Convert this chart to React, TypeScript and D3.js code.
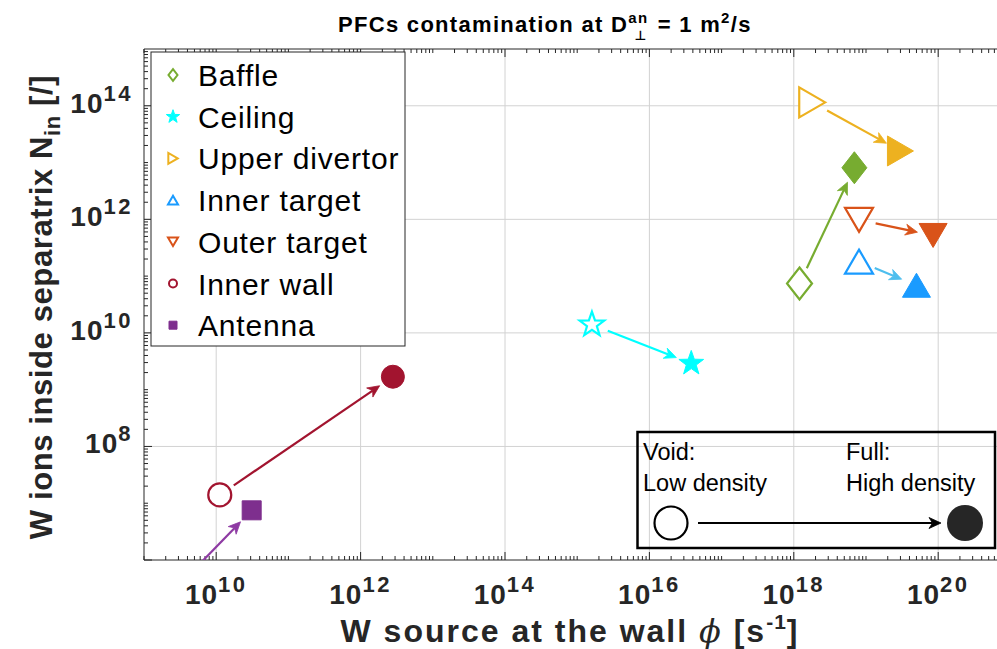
import React from 'react';
import * as d3 from 'd3';

const W = 997;
const H = 649;

// PFC groups, their markers and colours
const categories = ['Baffle', 'Ceiling', 'Upper divertor', 'Inner target', 'Outer target', 'Inner wall', 'Antenna'];
const markerShapes = ['diamond', 'star', 'triangleRight', 'triangleUp', 'triangleDown', 'circle', 'square'];
const seriesColors = ['#77AC30', '#00FFFF', '#EDB120', '#1A9BFF', '#D95319', '#A2142F', '#7E2F8E'];
const arrowColors = ['#77AC30', '#00FFFF', '#EDB120', '#4DBEEE', '#D95319', '#A2142F', '#8E3AA3'];

// Low density (void markers) and high density (full markers) cases
const voidSource = [1.2e18, 1.6e15, 1.8e18, 8.0e18, 8.0e18, 1.12e10, 2.8e9];
const voidIons = [7.4e10, 1.4e10, 1.15e14, 1.8e11, 9.8e11, 1.4e7, 3.2e5];
const fullSource = [6.9e18, 3.8e16, 3.0e19, 5.0e19, 8.5e19, 2.8e12, 3.1e10];
const fullIons = [8.1e12, 2.9e9, 1.6e13, 6.9e10, 5.2e11, 1.69e9, 7.5e6];

// Labelled decades
const xTickExponents = [10, 12, 14, 16, 18, 20];
const yTickExponents = [8, 10, 12, 14];

const FONT = '"Liberation Sans", Arial, Helvetica, sans-serif';
const AXIS = '#262626';

const plot = { left: 144, top: 49, right: 1010.4, bottom: 560 };

const xs = d3.scaleLog().domain([1e9, 1e21]).range([plot.left, plot.right]);
const ys = d3.scaleLog().domain([1e6, 1e15]).range([plot.bottom, plot.top]);

function markerPath(shape: string, big: boolean): string {
  const k = big ? 1 : 0.36;
  switch (shape) {
    case 'diamond': {
      const hw = 12.5 * k, hh = 16 * k;
      return `M0,${-hh}L${hw},0L0,${hh}L${-hw},0Z`;
    }
    case 'triangleUp': {
      const b = 28 * k, h = 24 * k;
      return `M0,${-h / 2}L${b / 2},${h / 2}L${-b / 2},${h / 2}Z`;
    }
    case 'triangleDown': {
      const b = 28 * k, h = 24 * k;
      return `M0,${h / 2}L${b / 2},${-h / 2}L${-b / 2},${-h / 2}Z`;
    }
    case 'triangleRight': {
      const b = 30 * k, h = 26 * k;
      return `M${h / 2},0L${-h / 2},${-b / 2}L${-h / 2},${b / 2}Z`;
    }
    case 'star': {
      const R = (big ? 13 : 7), r = R * 0.4;
      const pts: string[] = [];
      for (let i = 0; i < 10; i++) {
        const a = -Math.PI / 2 + (i * Math.PI) / 5;
        const rr = i % 2 === 0 ? R : r;
        pts.push(`${(rr * Math.cos(a)).toFixed(2)},${(rr * Math.sin(a)).toFixed(2)}`);
      }
      return 'M' + pts.join('L') + 'Z';
    }
    case 'square': {
      const s = big ? 9.5 : 4;
      return `M${-s},${-s}L${s},${-s}L${s},${s}L${-s},${s}Z`;
    }
    default: {
      const r = big ? 11.5 : 4;
      return `M${r},0A${r},${r} 0 1 1 ${-r},0A${r},${r} 0 1 1 ${r},0Z`;
    }
  }
}

function Arrow({ x0, y0, x1, y1, gap0, gap1, color, width = 2.2 }: any) {
  const dx = x1 - x0, dy = y1 - y0;
  const len = Math.hypot(dx, dy);
  const ux = dx / len, uy = dy / len;
  const nx = -uy, ny = ux;
  const sx = x0 + ux * gap0, sy = y0 + uy * gap0;
  const ex = x1 - ux * gap1, ey = y1 - uy * gap1;
  const L = 12, HW = 5.5, notch = 3.5;
  const bx = ex - ux * L, by = ey - uy * L;
  const head = `M${ex},${ey}L${bx + nx * HW},${by + ny * HW}L${ex - ux * (L - notch)},${ey - uy * (L - notch)}L${bx - nx * HW},${by - ny * HW}Z`;
  return (
    <g>
      <line x1={sx} y1={sy} x2={ex - ux * (L - notch)} y2={ey - uy * (L - notch)} stroke={color} strokeWidth={width} />
      <path d={head} fill={color} stroke={color} strokeWidth={0.8} strokeLinejoin="miter" />
    </g>
  );
}

export default function App() {
  const xMinor: { v: number; major: boolean }[] = [];
  for (let e = 9; e <= 20; e++) {
    for (let m = 1; m <= 9; m++) {
      const v = m * Math.pow(10, e);
      if (v < 1e9 || v > 1e21) continue;
      xMinor.push({ v, major: m === 1 && xTickExponents.includes(e) });
    }
  }
  const yMinor: { v: number; major: boolean }[] = [];
  for (let e = 6; e <= 14; e++) {
    for (let m = 1; m <= 9; m++) {
      const v = m * Math.pow(10, e);
      if (v < 1e6 || v > 1e15) continue;
      yMinor.push({ v, major: m === 1 && (e % 2 === 0) });
    }
  }

  return (
    <svg width={W} height={H} style={{ position: 'fixed', left: 0, top: 0, background: '#fff' }} fontFamily={FONT}>
      <rect x={0} y={0} width={W} height={H} fill="#fff" />
      <defs>
        <clipPath id="plotClip">
          <rect x={plot.left} y={plot.top} width={plot.right - plot.left} height={plot.bottom - plot.top} />
        </clipPath>
      </defs>

      {/* grid */}
      <g stroke="#d2d2d2" strokeWidth={1}>
        {xTickExponents.map((e) => (
          <line key={'gx' + e} x1={xs(10 ** e)} x2={xs(10 ** e)} y1={plot.top} y2={plot.bottom} />
        ))}
        {yTickExponents.map((e) => (
          <line key={'gy' + e} x1={plot.left} x2={plot.right} y1={ys(10 ** e)} y2={ys(10 ** e)} />
        ))}
      </g>

      {/* axes box and inward ticks */}
      <g stroke={AXIS} strokeWidth={1} fill="none">
        <line x1={plot.left} x2={plot.left} y1={plot.top} y2={plot.bottom} />
        <line x1={plot.left} x2={plot.right} y1={plot.top} y2={plot.top} />
        <line x1={plot.left} x2={plot.right} y1={plot.bottom} y2={plot.bottom} />
        {xMinor.map((t, i) => {
          const x = xs(t.v);
          const l = t.major ? 8 : 4;
          return (
            <g key={'tx' + i}>
              <line x1={x} x2={x} y1={plot.bottom} y2={plot.bottom - l} />
              <line x1={x} x2={x} y1={plot.top} y2={plot.top + l} />
            </g>
          );
        })}
        {yMinor.map((t, i) => {
          const y = ys(t.v);
          const l = t.major ? 8 : 4;
          return <line key={'ty' + i} x1={plot.left} x2={plot.left + l} y1={y} y2={y} />;
        })}
      </g>

      {/* tick labels */}
      <g fill={AXIS} fontWeight="bold">
        {xTickExponents.map((e) => (
          <text key={'lx' + e} x={xs(10 ** e)} y={604} textAnchor="middle" fontSize={28} letterSpacing={1}>
            10<tspan dy={-12} fontSize={22} letterSpacing={2.5}>{e}</tspan>
          </text>
        ))}
        {[8, 10, 12, 14].map((e) => (
          <text key={'ly' + e} x={133} y={ys(10 ** e) + 7} textAnchor="end" fontSize={28} letterSpacing={1}>
            10<tspan dy={-12} fontSize={22} letterSpacing={2.5}>{e}</tspan>
          </text>
        ))}
      </g>

      {/* data: arrows from low to high density, then markers */}
      <g clipPath="url(#plotClip)">
        {categories.map((c, i) => (
          <Arrow
            key={'ar' + c}
            x0={xs(voidSource[i])}
            y0={ys(voidIons[i])}
            x1={xs(fullSource[i])}
            y1={ys(fullIons[i])}
            gap0={17}
            gap1={16}
            color={arrowColors[i]}
          />
        ))}
        {categories.map((c, i) => (
          <path
            key={'mv' + c}
            d={markerPath(markerShapes[i], true)}
            transform={`translate(${xs(voidSource[i])},${ys(voidIons[i])})`}
            fill="#fff"
            stroke={seriesColors[i]}
            strokeWidth={2.2}
          />
        ))}
        {categories.map((c, i) => (
          <path
            key={'mf' + c}
            d={markerPath(markerShapes[i], true)}
            transform={`translate(${xs(fullSource[i])},${ys(fullIons[i])})`}
            fill={seriesColors[i]}
            stroke={seriesColors[i]}
            strokeWidth={1}
          />
        ))}
      </g>

      {/* legend */}
      <g>
        <rect x={151} y={52} width={254} height={294} fill="#fff" stroke={AXIS} strokeWidth={1} />
        {categories.map((c, i) => {
          const y = 75 + i * 41.7;
          const filled = markerShapes[i] === 'star' || markerShapes[i] === 'square';
          return (
            <g key={'lg' + c}>
              <path
                d={markerPath(markerShapes[i], false)}
                transform={`translate(173,${y})`}
                fill={filled ? seriesColors[i] : '#fff'}
                stroke={seriesColors[i]}
                strokeWidth={filled ? 1 : 2}
              />
              <text x={198} y={y + 11} fontSize={30} letterSpacing={0.8} fill="#000">{c}</text>
            </g>
          );
        })}
      </g>

      {/* density key */}
      <g>
        <rect x={637.5} y={432} width={357.5} height={116} fill="none" stroke="#000" strokeWidth={2.5} />
        <text x={643} y={460} fontSize={23.5} fill="#000">Void:</text>
        <text x={643} y={491} fontSize={23.5} fill="#000">Low density</text>
        <text x={846} y={460} fontSize={23.5} fill="#000">Full:</text>
        <text x={846} y={491} fontSize={23.5} fill="#000">High density</text>
        <circle cx={671} cy={523} r={16.5} fill="#fff" stroke="#000" strokeWidth={2.2} />
        <circle cx={965} cy={523} r={18} fill="#262626" />
        <Arrow x0={671} y0={523} x1={965} y1={523} gap0={27} gap1={24} color="#000" width={2} />
      </g>

      {/* title */}
      <text x={338} y={32} fontSize={22} fontWeight="bold" letterSpacing={1.3} fill="#000">
        PFCs contamination at D<tspan dy={-9} fontSize={15}>an</tspan>
        <tspan dx={-14} dy={17} fontSize={13} fontFamily="DejaVu Sans" letterSpacing={0}>⊥</tspan>
        <tspan dx={4} dy={-8}> = 1 m</tspan>
        <tspan dy={-9} fontSize={15}>2</tspan>
        <tspan dy={9}>/s</tspan>
      </text>

      {/* axis titles */}
      <text x={570} y={642} textAnchor="middle" fontSize={32} fontWeight="bold" letterSpacing={2} fill={AXIS}>
        W source at the wall <tspan fontStyle="italic" fontFamily="DejaVu Serif" fontWeight="normal">ϕ</tspan> [s
        <tspan dy={-13} fontSize={21} letterSpacing={1}>-1</tspan>
        <tspan dy={13}>]</tspan>
      </text>
      <text
        transform="translate(52,307) rotate(-90)"
        textAnchor="middle"
        fontSize={31}
        fontWeight="bold"
        letterSpacing={0.6}
        fill={AXIS}
      >
        W ions inside separatrix N<tspan dy={8} fontSize={22}>in</tspan>
        <tspan dy={-8}> [/]</tspan>
      </text>
    </svg>
  );
}
